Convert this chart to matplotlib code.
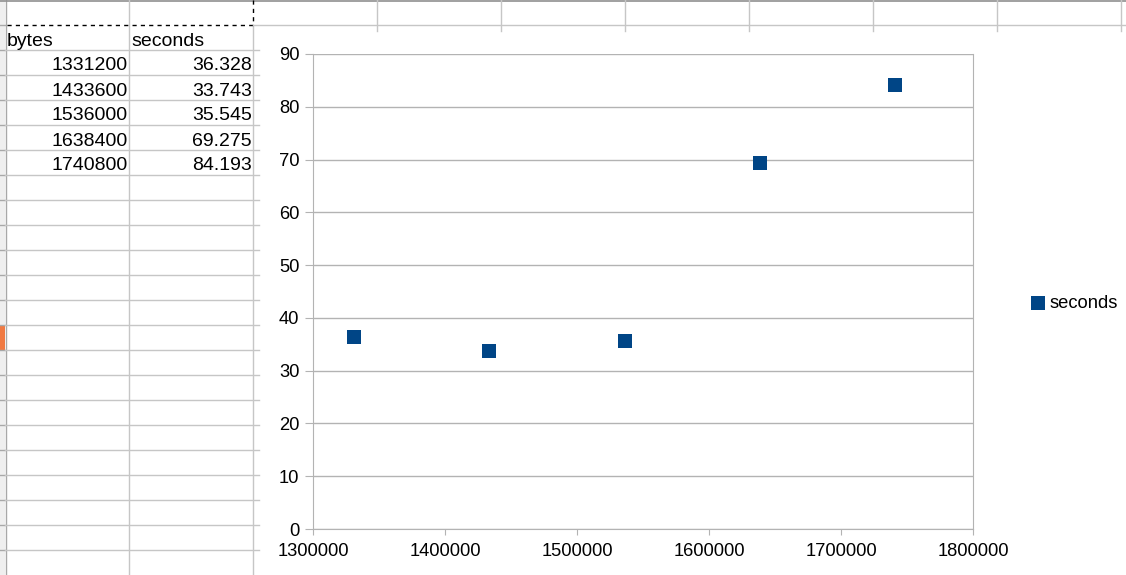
import matplotlib.pyplot as plt
from matplotlib.patches import Rectangle

plt.rcParams['font.family'] = ['Liberation Sans', 'DejaVu Sans']

# data from the sheet
col_names = ["bytes", "seconds"]
n_bytes = [1331200, 1433600, 1536000, 1638400, 1740800]
seconds = [36.328, 33.743, 35.545, 69.275, 84.193]
x_ticks = [1300000, 1400000, 1500000, 1600000, 1700000, 1800000]
y_ticks = [0, 10, 20, 30, 40, 50, 60, 70, 80, 90]

W, H = 1126, 575
fig = plt.figure(figsize=(W / 100, H / 100), dpi=100)

# spreadsheet background in pixel coords
bg = fig.add_axes([0, 0, 1, 1])
bg.set_xlim(0, W)
bg.set_ylim(H, 0)
bg.axis("off")

grid_c = "#c6c6c6"
# row header strip
bg.add_patch(Rectangle((0, 0), 5, H, color="#efefef", lw=0))
bg.add_patch(Rectangle((0, 325), 5, 25, color="#f07a43", lw=0))
bg.plot([5.5, 5.5], [0, H], color="#a8a8a8", lw=1)
for y in range(25, H, 25):
    bg.plot([0, 5], [y, y], color="#a8a8a8", lw=1)
bg.plot([0, W], [0.5, 0.5], color="#909090", lw=1.2)

# cell lines on the left
for y in range(50, H, 25):
    bg.plot([5, 259], [y, y], color=grid_c, lw=1)
bg.plot([129, 129], [0, H], color=grid_c, lw=1)
bg.plot([253, 253], [25, H], color=grid_c, lw=1)
bg.plot([253, 253], [0, 25], color="black", lw=1, ls=(0, (3, 3)))
bg.plot([7, 253], [25, 25], color="black", lw=1, ls=(0, (3, 3)))
bg.plot([253, W], [25, 25], color=grid_c, lw=1)
for x in range(377, W, 124):
    bg.plot([x, x], [0, 31], color=grid_c, lw=1)

# table text
fs = 14
bg.text(7, 46, col_names[0], fontsize=fs, va="baseline", ha="left")
bg.text(131, 46, col_names[1], fontsize=fs, va="baseline", ha="left")
for i, (b, s) in enumerate(zip(n_bytes, seconds)):
    yb = 70.5 + 25 * i
    bg.text(128, yb, str(b), fontsize=fs, va="baseline", ha="right")
    bg.text(252, yb, "%.3f" % s, fontsize=fs, va="baseline", ha="right")

# chart
ax = fig.add_axes([313 / W, 1 - 529 / H, (973 - 313) / W, (529 - 54) / H])
ax.set_facecolor("white")
ax.scatter(n_bytes, seconds, marker="s", s=110, color="#004586", zorder=3,
           label="seconds", linewidths=0)
ax.set_xlim(1300000, 1800000)
ax.set_ylim(0, 90)
ax.set_xticks(x_ticks)
ax.set_xticklabels([str(v) for v in x_ticks])
ax.set_yticks(y_ticks)
ax.yaxis.grid(True, color="#b3b3b3", lw=1)
ax.set_axisbelow(True)
for side in ["left", "bottom", "right"]:
    ax.spines[side].set_color("#b3b3b3")
ax.spines["top"].set_visible(False)
ax.tick_params(color="#b3b3b3", labelsize=13.2)
ax.tick_params(axis="y", length=5.8, pad=4)
ax.tick_params(axis="x", length=4.3, pad=6)

fig.legend(loc="center left", bbox_to_anchor=(1031 / W, 1 - 303 / H),
           frameon=False, fontsize=13.2, handlelength=0.8, handletextpad=0.2,
           markerscale=0.9, borderaxespad=0, borderpad=0)

fig.savefig("out.png", dpi=100)
